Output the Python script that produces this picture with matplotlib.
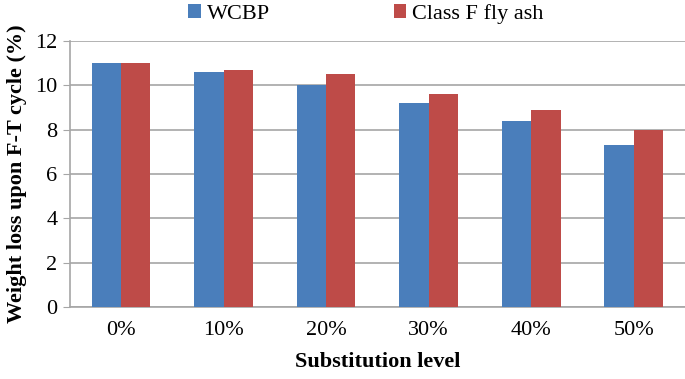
import numpy as np
import matplotlib.pyplot as plt

plt.rcParams['font.family'] = ['Liberation Serif', 'DejaVu Serif']

levels = ['0%', '10%', '20%', '30%', '40%', '50%']
wcbp = [11.0, 10.6, 10.0, 9.2, 8.4, 7.3]
fly_ash = [11.0, 10.7, 10.5, 9.6, 8.9, 8.0]

blue = '#4a7ebb'
red = '#be4b48'

fig = plt.figure(figsize=(6.85, 3.79), dpi=100)
ax = fig.add_axes([0.102, 0.19, 0.898, 0.702])

x = np.arange(len(levels))
w = 0.286
ax.bar(x - w / 2, wcbp, w, color=blue, label='WCBP', zorder=3)
ax.bar(x + w / 2, fly_ash, w, color=red, label='Class F fly ash', zorder=3)

ax.set_xlim(-0.5, 5.5)
ax.set_ylim(0, 12)
ax.set_yticks(range(0, 13, 2))
ax.set_xticks(x)
ax.set_xticklabels(levels)
ax.yaxis.grid(True, color='#a6a6a6', linewidth=1.2, zorder=0)
for s in ['top', 'right']:
    ax.spines[s].set_visible(False)
ax.spines['left'].set_color('#a6a6a6')
ax.spines['bottom'].set_color('#a6a6a6')
ax.spines['left'].set_linewidth(1.2)
ax.spines['bottom'].set_linewidth(1.2)
ax.tick_params(axis='y', length=5, color='#a6a6a6', labelsize=16, pad=4)
ax.tick_params(axis='x', length=0, labelsize=16, pad=10)

ax.set_xlabel('Substitution level', fontsize=16, fontweight='bold', labelpad=9)
ax.set_ylabel('Weight loss upon F-T cycle (%)', fontsize=16, fontweight='bold', labelpad=6)

fig.legend(loc='upper left', bbox_to_anchor=(0.275, 0.99), ncol=2, frameon=False,
           fontsize=16, handlelength=0.55, handleheight=0.55, handletextpad=0.27,
           columnspacing=5.6, borderpad=0, borderaxespad=0)

fig.savefig('out.png', dpi=100)
